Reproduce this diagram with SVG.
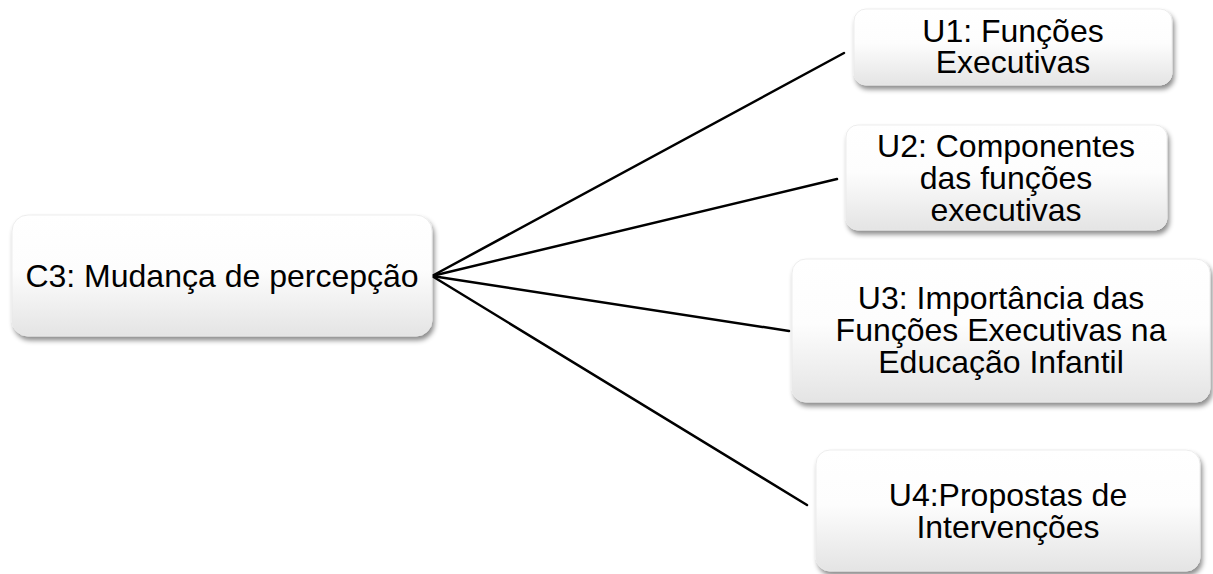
<svg xmlns="http://www.w3.org/2000/svg" width="1213" height="574" viewBox="0 0 1213 574">
  <defs>
    <linearGradient id="boxFill" x1="0" y1="0" x2="0" y2="1">
      <stop offset="0" stop-color="#ffffff"/>
      <stop offset="0.45" stop-color="#fdfdfd"/>
      <stop offset="1" stop-color="#e4e4e4"/>
    </linearGradient>
    <filter id="shadow" x="-10%" y="-20%" width="125%" height="150%">
      <feDropShadow dx="2" dy="4" stdDeviation="2.5" flood-color="#000000" flood-opacity="0.45"/>
    </filter>
  </defs>
  <style>
    .box { fill: url(#boxFill); stroke: #e8e8e8; stroke-width: 0.8; filter: url(#shadow); }
    .label { font-family: "Liberation Sans", Arial, sans-serif; font-size: 32px; fill: #000000; text-anchor: middle; }
    .link { stroke: #000000; stroke-width: 2.5; fill: none; stroke-linecap: round; }
  </style>
  <rect width="1213" height="574" fill="#ffffff"/>

  <!-- connectors from the central category to each unit -->
  <g id="connectors">
    <line class="link" x1="432" y1="276" x2="844" y2="53"/>
    <line class="link" x1="432" y1="276" x2="837" y2="179"/>
    <line class="link" x1="432" y1="276" x2="789" y2="331"/>
    <line class="link" x1="432" y1="276" x2="807" y2="505"/>
  </g>

  <g id="c3">
    <rect class="box" x="12" y="215" width="420" height="121" rx="16"/>
    <text class="label" x="222" y="287">C3: Mudança de percepção</text>
  </g>

  <g id="u1">
    <rect class="box" x="854" y="9" width="318" height="76" rx="12"/>
    <text class="label" x="1013" y="42">U1: Funções</text>
    <text class="label" x="1013" y="73">Executivas</text>
  </g>

  <g id="u2">
    <rect class="box" x="846" y="125" width="321" height="105" rx="12"/>
    <text class="label" x="1006" y="157">U2: Componentes</text>
    <text class="label" x="1006" y="189">das funções</text>
    <text class="label" x="1006" y="221">executivas</text>
  </g>

  <g id="u3">
    <rect class="box" x="792" y="259" width="418" height="143" rx="14"/>
    <text class="label" x="1001" y="309">U3: Importância das</text>
    <text class="label" x="1001" y="341">Funções Executivas na</text>
    <text class="label" x="1001" y="373">Educação Infantil</text>
  </g>

  <g id="u4">
    <rect class="box" x="816" y="450" width="384" height="121" rx="14"/>
    <text class="label" x="1008" y="506">U4:Propostas de</text>
    <text class="label" x="1008" y="538">Intervenções</text>
  </g>
</svg>
